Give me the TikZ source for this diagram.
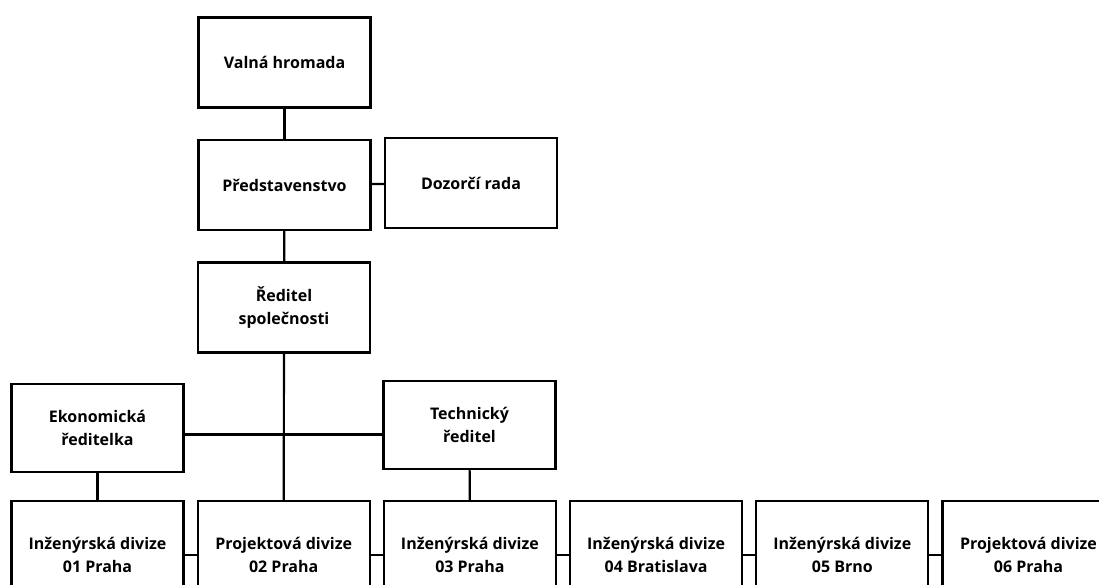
\documentclass[tikz,border=0pt]{standalone}
\usepackage{fontspec}
\setmainfont{Open Sans}
\usetikzlibrary{positioning}

\tikzset{
	kasten/.style={draw=black, line width=2.2pt, fill=white, align=center,
		font=\fontsize{16}{23}\selectfont\bfseries,
		minimum width=172pt, minimum height=90pt, inner sep=2pt},
	divbox/.style={kasten, minimum height=108pt},
	linie/.style={draw=black, line width=2.2pt}
}

\begin{document}
\begin{tikzpicture}[x=1pt, y=1pt]
	\useasboundingbox (0, 0) rectangle (1099, 584);
	% Leitung oben
	\node[kasten] (valna) at (284.5, 521.5) {Valná hromada};
	\node[kasten] (pred) at (284.5, 399) {Představenstvo};
	\node[kasten] (dozor) at (471, 401) {Dozorčí rada};
	\node[kasten] (reditel) at (284, 276.5) {Ředitel\\společnosti};
	% Direktoren
	\node[kasten, minimum height=88pt] (ekon) at (97.5, 156) {Ekonomická\\ředitelka};
	\node[kasten, minimum height=88pt] (tech) at (469.5, 159) {Technický\\ředitel};

	% Divisionen unten
	\foreach \i/\name/\ort in {1/Inženýrská/01 Praha, 2/Projektová/02 Praha,
		3/Inženýrská/03 Praha, 4/Inženýrská/04 Bratislava,
		5/Inženýrská/05 Brno, 6/Projektová/06 Praha}
		\pgfmathsetmacro{\xpos}{97.5+186.2*(\i-1)}
		\node[divbox] (div\i) at (\xpos, 29) {\name{} divize\\\ort};

	% Verbindungen
	\coordinate (kreuz) at (284, 149.5);
	\draw[linie] (valna) -- (pred);
	\draw[linie] (pred) -- (dozor);
	\draw[linie] (pred) -- (reditel);
	\draw[linie] (reditel) -- (div2);
	\draw[linie] (ekon.east |- kreuz) -- (tech.west |- kreuz);
	\draw[linie] (ekon) -- (div1);
	\draw[linie] (tech) -- (div3);
	\foreach \i in {1,...,5}
		\pgfmathtruncatemacro{\j}{\i+1}
		\draw[linie] (div\i) -- (div\j);
\end{tikzpicture}
\end{document}
